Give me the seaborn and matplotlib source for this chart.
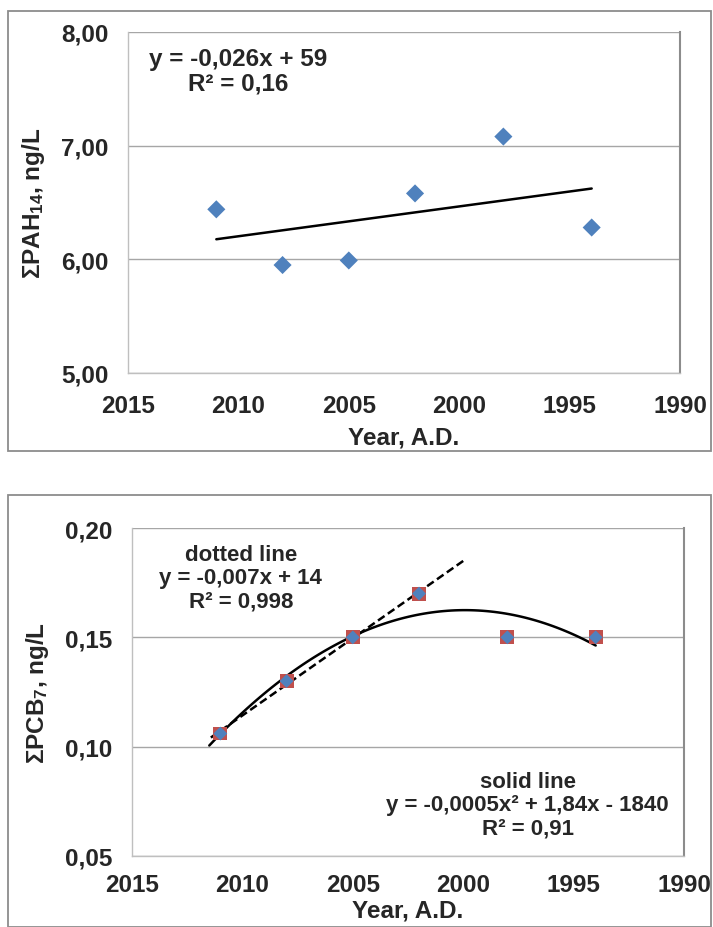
import matplotlib
matplotlib.use("Agg")
import matplotlib.pyplot as plt
from matplotlib.patches import Rectangle
from matplotlib.ticker import FuncFormatter
import numpy as np
import pandas as pd
import seaborn as sns

# data
years = [2011, 2008, 2005, 2002, 1998, 1994]
pah14 = [6.44, 5.95, 5.99, 6.58, 7.08, 6.28]
pcb7 = [0.106, 0.130, 0.150, 0.170, 0.150, 0.150]
n_lin = 4  # dashed fit uses the first four samples (2011-2002)

pah_df = pd.DataFrame({"year": years, "value": pah14})
pcb_df = pd.DataFrame({"year": years, "value": pcb7})

sns.set_theme(style="white")
plt.rcParams["font.family"] = ["Liberation Sans", "DejaVu Sans"]
plt.rcParams["font.weight"] = "bold"
plt.rcParams["mathtext.fontset"] = "custom"
plt.rcParams["mathtext.rm"] = "Liberation Sans:bold"
plt.rcParams["mathtext.it"] = "Liberation Sans:bold"
plt.rcParams["mathtext.bf"] = "Liberation Sans:bold"

BLUE = "#4F81BD"
RED = "#C0504D"
GRID = "#A6A6A6"
FS = 17.5
FS_NOTE2 = 16

fig = plt.figure(figsize=(7.13, 9.28), dpi=100)

# outer frames round each panel
for y0, h in [(1 - 452 / 928, (452 - 12) / 928), (0.0, (928 - 496) / 928)]:
    fig.patches.append(Rectangle((8 / 713, y0), 703 / 713, h, transform=fig.transFigure,
                                 fill=False, edgecolor="#8C8C8C", linewidth=1.3))

ax1 = fig.add_axes([128 / 713, 1 - 374 / 928, 552 / 713, 341 / 928])
ax2 = fig.add_axes([132 / 713, 1 - 857 / 928, 552 / 713, 328 / 928])


def style_axes(ax, ylim, yticks, ylabel, fmt, xpad, xlpad):
    ax.set_xlim(2015, 1990)
    ax.set_ylim(*ylim)
    ax.set_xticks([2015, 2010, 2005, 2000, 1995, 1990])
    ax.set_yticks(yticks)
    ax.yaxis.set_major_formatter(FuncFormatter(lambda v, p: fmt.format(v).replace(".", ",")))
    ax.grid(axis="y", color=GRID, linewidth=1.0)
    ax.grid(axis="x", visible=False)
    ax.set_axisbelow(True)
    for s in ["left", "bottom"]:
        ax.spines[s].set_color("#BFBFBF")
        ax.spines[s].set_linewidth(1.0)
    ax.spines["top"].set_visible(False)
    ax.spines["right"].set_color("#8C8C8C")
    ax.spines["right"].set_linewidth(1.5)
    ax.tick_params(axis="both", direction="out", length=5, width=1, color="#BFBFBF",
                   labelsize=FS)
    ax.tick_params(axis="x", pad=xpad)
    ax.tick_params(axis="y", pad=9)
    for t in ax.get_xticklabels() + ax.get_yticklabels():
        t.set_fontweight("bold")
    ax.set_xlabel("Year, A.D.", fontsize=FS, fontweight="bold", labelpad=xlpad)
    ax.set_ylabel(ylabel, fontsize=FS, fontweight="bold", labelpad=10)


# top panel: sum of 14 PAHs
sns.scatterplot(data=pah_df, x="year", y="value", marker="D", s=85, color=BLUE,
                edgecolor="none", ax=ax1, zorder=3)
sns.regplot(data=pah_df, x="year", y="value", scatter=False, ci=None, ax=ax1,
            line_kws={"color": "black", "linewidth": 1.8, "zorder": 2})
style_axes(ax1, (5, 8), [5, 6, 7, 8], r"$\Sigma$PAH$_{14}$, ng/L", "{:.2f}", 10, 6)
ax1.text(0.199, 0.955, "y = -0,026x + 59\nR² = 0,16", transform=ax1.transAxes,
         ha="center", va="top", multialignment="center", fontsize=FS,
         fontweight="bold", linespacing=1.05)

# bottom panel: sum of 7 PCBs, linear fit on 2011-2002 and quadratic fit on all
lin = np.polyfit(years[:n_lin], pcb7[:n_lin], 1)
quad = np.polyfit(years, pcb7, 2)
x_lin = np.linspace(years[0] + 0.5, 2000, 50)
x_quad = np.linspace(years[0] + 0.5, years[-1], 100)
sns.lineplot(x=x_quad, y=np.polyval(quad, x_quad), color="black", linewidth=1.8,
             ax=ax2, zorder=2)
sns.lineplot(x=x_lin, y=np.polyval(lin, x_lin), color="black", linewidth=1.8,
             linestyle=(0, (3.2, 1.6)), ax=ax2, zorder=2)
sns.scatterplot(data=pcb_df, x="year", y="value", marker="s", s=100, color=RED,
                edgecolor="none", ax=ax2, zorder=3)
sns.scatterplot(data=pcb_df, x="year", y="value", marker="D", s=50, color=BLUE,
                edgecolor="none", ax=ax2, zorder=4)
style_axes(ax2, (0.05, 0.20), [0.05, 0.10, 0.15, 0.20], r"$\Sigma$PCB$_{7}$, ng/L", "{:.2f}", 7, 2)
ax2.text(0.197, 0.95, "dotted line\ny = -0,007x + 14\nR² = 0,998", transform=ax2.transAxes,
         ha="center", va="top", multialignment="center", fontsize=FS_NOTE2,
         fontweight="bold", linespacing=1.12)
ax2.text(0.717, 0.258, "solid line\ny = -0,0005x² + 1,84x - 1840\nR² = 0,91",
         transform=ax2.transAxes, ha="center", va="top", multialignment="center",
         fontsize=FS_NOTE2, fontweight="bold", linespacing=1.12)

fig.savefig("out.png", dpi=100)
